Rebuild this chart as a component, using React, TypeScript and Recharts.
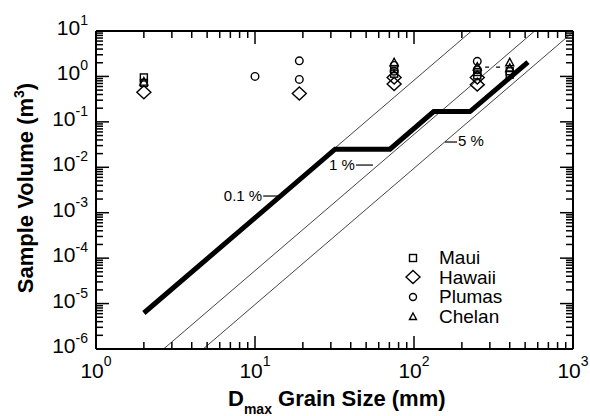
import { ComposedChart, Line, Scatter, XAxis, YAxis } from "recharts";

const FONT = '"Liberation Sans", Arial, sans-serif';

// axis decades and minor steps (log axes)
const xDecades = [0, 1, 2, 3];
const yDecades = [-6, -5, -4, -3, -2, -1, 0, 1];
const minorSteps = [2, 3, 4, 5, 6, 7, 8, 9];

// sample volumes (Dmax mm, volume m3)
const mauiPoints = [
  { x: 2, y: 0.95 },
  { x: 2, y: 0.72 },
  { x: 75, y: 1.45 },
  { x: 75, y: 1.15 },
  { x: 250, y: 1.25 },
  { x: 250, y: 1.05 },
  { x: 400, y: 1.3 },
  { x: 400, y: 1.1 },
];
const hawaiiPoints = [
  { x: 2, y: 0.45 },
  { x: 19, y: 0.42 },
  { x: 75, y: 0.95 },
  { x: 75, y: 0.68 },
  { x: 250, y: 0.95 },
  { x: 250, y: 0.66 },
];
const plumasPoints = [
  { x: 10, y: 1.0 },
  { x: 19, y: 2.2 },
  { x: 19, y: 0.86 },
  { x: 75, y: 1.75 },
  { x: 75, y: 1.3 },
  { x: 250, y: 2.15 },
  { x: 250, y: 1.4 },
];
const chelanPoints = [
  { x: 2, y: 0.75 },
  { x: 75, y: 2.0 },
  { x: 250, y: 1.6 },
  { x: 400, y: 2.0 },
  { x: 400, y: 1.5 },
];

// required sample volume path
const requiredPath = [
  { x: 2, y: 6.2e-6 },
  { x: 31.9, y: 0.025 },
  { x: 70.6, y: 0.025 },
  { x: 133, y: 0.168 },
  { x: 225, y: 0.168 },
  { x: 521, y: 2.07 },
];

// percent criterion lines
const line01 = [
  { x: 2, y: 6.6e-6 },
  { x: 230, y: 10 },
];
const line1 = [
  { x: 2.66, y: 1e-6 },
  { x: 574, y: 10 },
];
const line5 = [
  { x: 4.72, y: 1e-6 },
  { x: 1000, y: 9.5 },
];
const dashLink = [
  { x: 280, y: 1.6 },
  { x: 357, y: 1.6 },
];

// percent labels, anchored where the leader meets the line
const label01 = [{ x: 14.4, y: 0.00233, name: "0.1 %" }];
const label1 = [{ x: 55.2, y: 0.0112, name: "1 %" }];
const label5 = [{ x: 156.7, y: 0.036, name: "5 %" }];

const legendNames = ["Maui", "Hawaii", "Plumas", "Chelan"];

const buildTicks = (decades: number[]) => {
  const out: number[] = [];
  decades.forEach((d, i) => {
    out.push(Number(`1e${d}`));
    if (i < decades.length - 1) {
      minorSteps.forEach((m) => out.push(Number(`${m}e${d}`)));
    }
  });
  return out;
};
const xTicks = buildTicks(xDecades);
const yTicks = buildTicks(yDecades);

const isMajor = (v: number) => {
  const l = Math.log10(v);
  return Math.abs(l - Math.round(l)) < 1e-6;
};
const expOf = (v: number) => Math.round(Math.log10(v));

const MAJOR = 13;
const MINOR = 7;

const BottomTick = (p: any) => {
  const { x, y, payload } = p;
  const v = payload.value;
  const major = isMajor(v);
  return (
    <g>
      <line x1={x} x2={x} y1={y} y2={y - (major ? MAJOR : MINOR)} stroke="#000" strokeWidth={1.5} />
      {major && (
        <text x={x} y={y + 29} textAnchor="middle" fontSize={21} fontFamily={FONT} fill="#000">
          10
          <tspan dy={-12} fontSize={14}>
            {expOf(v)}
          </tspan>
        </text>
      )}
    </g>
  );
};

const TopTick = (p: any) => {
  const { x, y, payload } = p;
  const major = isMajor(payload.value);
  return <line x1={x} x2={x} y1={y} y2={y + (major ? MAJOR : MINOR)} stroke="#000" strokeWidth={1.5} />;
};

const LeftTick = (p: any) => {
  const { x, y, payload } = p;
  const v = payload.value;
  const major = isMajor(v);
  return (
    <g>
      <line x1={x} x2={x + (major ? MAJOR : MINOR)} y1={y} y2={y} stroke="#000" strokeWidth={1.5} />
      {major && (
        <text x={x - 8} y={y + 4} textAnchor="end" fontSize={21} fontFamily={FONT} fill="#000">
          10
          <tspan dy={-10} fontSize={14}>
            {expOf(v)}
          </tspan>
        </text>
      )}
    </g>
  );
};

const RightTick = (p: any) => {
  const { x, y, payload } = p;
  const major = isMajor(payload.value);
  return <line x1={x} x2={x - (major ? MAJOR : MINOR)} y1={y} y2={y} stroke="#000" strokeWidth={1.5} />;
};

const MARK = { fill: "none", stroke: "#000", strokeWidth: 1.4 };

const SquareMark = ({ cx, cy }: any) => <rect x={cx - 3.5} y={cy - 3.5} width={7} height={7} {...MARK} />;
const DiamondMark = ({ cx, cy }: any) => (
  <path d={`M${cx},${cy - 6.5} L${cx + 7},${cy} L${cx},${cy + 6.5} L${cx - 7},${cy} Z`} {...MARK} />
);
const CircleMark = ({ cx, cy }: any) => <circle cx={cx} cy={cy} r={3.8} {...MARK} />;
const TriangleMark = ({ cx, cy }: any) => (
  <path d={`M${cx},${cy - 4.5} L${cx + 4},${cy + 3} L${cx - 4},${cy + 3} Z`} {...MARK} />
);

const LeftLabel = ({ cx, cy, payload }: any) => (
  <g>
    <line x1={cx - 17} x2={cx} y1={cy} y2={cy} stroke="#000" strokeWidth={1.2} />
    <text x={cx - 18} y={cy + 5} textAnchor="end" fontSize={15} fontFamily={FONT} fill="#000">
      {payload.name}
    </text>
  </g>
);
const RightLabel = ({ cx, cy, payload }: any) => (
  <g>
    <line x1={cx} x2={cx + 12} y1={cy} y2={cy} stroke="#000" strokeWidth={1.2} />
    <text x={cx + 13} y={cy + 4} textAnchor="start" fontSize={15} fontFamily={FONT} fill="#000">
      {payload.name}
    </text>
  </g>
);

const legendMarks = [
  <rect x={6.5} y={6.5} width={7} height={7} {...MARK} />,
  <path d="M10,3.5 L17,10 L10,16.5 L3,10 Z" {...MARK} />,
  <circle cx={10} cy={10} r={3.5} {...MARK} />,
  <path d="M10,6 L13.5,12.5 L6.5,12.5 Z" {...MARK} />,
];

const xAxisCommon = {
  type: "number" as const,
  dataKey: "x",
  scale: "log" as const,
  domain: [1, 1000],
  allowDataOverflow: true,
  ticks: xTicks,
  interval: 0,
  tickSize: 0,
  tickMargin: 0,
  tickLine: false,
  height: 1,
  axisLine: { stroke: "#000", strokeWidth: 2 },
};
const yAxisCommon = {
  type: "number" as const,
  dataKey: "y",
  scale: "log" as const,
  domain: [1e-6, 10],
  allowDataOverflow: true,
  ticks: yTicks,
  interval: 0,
  tickSize: 0,
  tickMargin: 0,
  tickLine: false,
  width: 1,
  axisLine: { stroke: "#000", strokeWidth: 2 },
};

export default function App() {
  return (
    <div style={{ position: "absolute", left: 0, top: 0, width: 590, height: 416, background: "#fff", fontFamily: FONT }}>
      <ComposedChart width={590} height={416} margin={{ top: 30, right: 16, bottom: 66, left: 95 }}>
        <XAxis xAxisId="b" orientation="bottom" {...xAxisCommon} tick={(p: any) => <BottomTick {...p} />} />
        <XAxis xAxisId="t" orientation="top" {...xAxisCommon} tick={(p: any) => <TopTick {...p} />} />
        <YAxis yAxisId="l" orientation="left" {...yAxisCommon} tick={(p: any) => <LeftTick {...p} />} />
        <YAxis yAxisId="r" orientation="right" {...yAxisCommon} tick={(p: any) => <RightTick {...p} />} />

        <Line xAxisId="b" yAxisId="l" data={line01} dataKey="y" type="linear" stroke="#444" strokeWidth={1} dot={false} isAnimationActive={false} />
        <Line xAxisId="b" yAxisId="l" data={line1} dataKey="y" type="linear" stroke="#444" strokeWidth={1} dot={false} isAnimationActive={false} />
        <Line xAxisId="b" yAxisId="l" data={line5} dataKey="y" type="linear" stroke="#444" strokeWidth={1} dot={false} isAnimationActive={false} />
        <Line xAxisId="b" yAxisId="l" data={requiredPath} dataKey="y" type="linear" stroke="#000" strokeWidth={5} dot={false} isAnimationActive={false} />
        <Line xAxisId="b" yAxisId="l" data={dashLink} dataKey="y" type="linear" stroke="#000" strokeWidth={1.2} strokeDasharray="4 7" dot={false} isAnimationActive={false} />

        <Scatter xAxisId="b" yAxisId="l" data={mauiPoints} dataKey="y" shape={SquareMark} isAnimationActive={false} />
        <Scatter xAxisId="b" yAxisId="l" data={hawaiiPoints} dataKey="y" shape={DiamondMark} isAnimationActive={false} />
        <Scatter xAxisId="b" yAxisId="l" data={plumasPoints} dataKey="y" shape={CircleMark} isAnimationActive={false} />
        <Scatter xAxisId="b" yAxisId="l" data={chelanPoints} dataKey="y" shape={TriangleMark} isAnimationActive={false} />

        <Scatter xAxisId="b" yAxisId="l" data={label01} dataKey="y" shape={LeftLabel} isAnimationActive={false} />
        <Scatter xAxisId="b" yAxisId="l" data={label1} dataKey="y" shape={LeftLabel} isAnimationActive={false} />
        <Scatter xAxisId="b" yAxisId="l" data={label5} dataKey="y" shape={RightLabel} isAnimationActive={false} />
      </ComposedChart>

      {/* legend */}
      <div style={{ position: "absolute", left: 403, top: 248 }}>
        {legendNames.map((name, i) => (
          <div key={name} style={{ display: "flex", alignItems: "center", height: 19.6 }}>
            <svg width={20} height={20} style={{ marginRight: 16 }}>
              {legendMarks[i]}
            </svg>
            <span style={{ fontSize: 19, lineHeight: "19.6px", color: "#000" }}>{name}</span>
          </div>
        ))}
      </div>

      {/* y axis title */}
      <div
        style={{
          position: "absolute",
          left: 27,
          top: 188,
          transform: "translate(-50%, -50%) rotate(-90deg)",
          whiteSpace: "nowrap",
          fontWeight: "bold",
          fontSize: 22,
          lineHeight: "24px",
        }}
      >
        Sample Volume (m<span style={{ fontSize: 14, position: "relative", top: -9 }}>3</span>)
      </div>

      {/* x axis title */}
      <div
        style={{
          position: "absolute",
          left: 228,
          top: 388,
          whiteSpace: "nowrap",
          fontWeight: "bold",
          fontSize: 22,
          lineHeight: "22px",
        }}
      >
        D<span style={{ fontSize: 14, position: "relative", top: 8 }}>max</span> Grain Size (mm)
      </div>
    </div>
  );
}
